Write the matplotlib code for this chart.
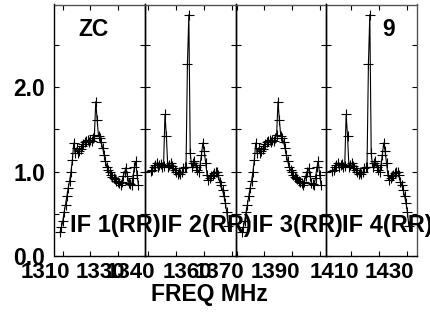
import numpy as np
import matplotlib
matplotlib.use("Agg")
import matplotlib.pyplot as plt
from matplotlib.transforms import ScaledTranslation

plt.rcParams['font.family'] = ['Liberation Sans', 'DejaVu Sans']
plt.rcParams['font.weight'] = 'bold'

# ---------------- data ----------------
if_names = ["IF 1(RR)", "IF 2(RR)", "IF 3(RR)", "IF 4(RR)"]
source_label = "ZC"
corner_label = "9"
x_axis_label = "FREQ MHz"

# per-panel frequency window (MHz)
panel_xlims = [(1307.0, 1340.0), (1339.1, 1371.5), (1369.9, 1402.35), (1401.2, 1433.8)]
# first channel frequency of every IF and channel step (MHz)
chan_start = [1309.0, 1341.1, 1371.9, 1403.25]
chan_step = 0.5

# labelled x ticks per panel
tick_labels_per_panel = [[1310, 1330], [1340, 1360], [1370, 1390], [1410, 1430]]

spec_if1 = [0.28, 0.34, 0.41, 0.52, 0.61, 0.71, 0.81, 0.89, 1.00, 1.14,
            1.34, 1.22, 1.28, 1.22, 1.24, 1.27, 1.30, 1.33, 1.35, 1.36,
            1.37, 1.35, 1.37, 1.36, 1.40, 1.43, 1.83, 1.61, 1.42, 1.40,
            1.35, 1.28, 1.20, 1.12, 1.06, 1.02, 0.99, 0.96, 0.94, 0.92,
            0.91, 0.89, 0.88, 0.86, 0.84, 0.88, 0.95, 1.00, 1.04, 0.95,
            0.87, 0.85, 0.84, 0.93, 1.05, 1.12, 0.96, 0.84]
spec_if2 = [1.01, 1.02, 1.05, 1.08, 1.10, 1.05, 1.08, 1.09, 1.05, 1.07,
            1.68, 1.42, 1.06, 1.08, 1.10, 1.07, 1.04, 1.02, 0.99, 0.97,
            1.00, 0.97, 0.99, 1.04, 1.05, 1.06, 2.27, 2.86, 1.22, 1.06,
            1.10, 1.13, 1.06, 1.02, 0.99, 1.08, 1.20, 1.34, 1.24, 1.10,
            0.96, 0.90, 0.93, 0.95, 0.96, 0.98, 0.99, 1.00, 0.96, 0.88,
            0.84, 0.78, 0.71, 0.63, 0.52, 0.36]
spec_if3 = [0.28, 0.34, 0.41, 0.52, 0.61, 0.71, 0.81, 0.89, 1.00, 1.14,
            1.34, 1.22, 1.28, 1.22, 1.24, 1.27, 1.30, 1.33, 1.35, 1.36,
            1.37, 1.35, 1.37, 1.36, 1.40, 1.43, 1.83, 1.61, 1.42, 1.40,
            1.35, 1.28, 1.20, 1.12, 1.06, 1.02, 0.99, 0.96, 0.94, 0.92,
            0.91, 0.89, 0.88, 0.86, 0.84, 0.88, 0.95, 1.00, 1.04, 0.95,
            0.87, 0.85, 0.84, 0.93, 1.05, 1.12, 0.96, 0.84]
spec_if4 = [1.01, 1.02, 1.05, 1.08, 1.10, 1.05, 1.08, 1.09, 1.05, 1.07,
            1.68, 1.42, 1.06, 1.08, 1.10, 1.07, 1.04, 1.02, 0.99, 0.97,
            1.00, 0.97, 0.99, 1.04, 1.05, 1.06, 2.27, 2.86, 1.22, 1.06,
            1.10, 1.13, 1.06, 1.02, 0.99, 1.08, 1.20, 1.34, 1.24, 1.10,
            0.96, 0.90, 0.93, 0.95, 0.96, 0.98, 0.99, 1.00, 0.96, 0.88,
            0.84, 0.78, 0.71, 0.63, 0.52, 0.36]
spectra = [spec_if1, spec_if2, spec_if3, spec_if4]

y_max = 2.98
y_ticks = [0.0, 0.5, 1.0, 1.5, 2.0, 2.5]
y_tick_labels = ["0.0", "", "1.0", "", "2.0", ""]

# ---------------- layout ----------------
W, H = 431, 314
fig = plt.figure(figsize=(W / 100, H / 100), dpi=100)
fig.patch.set_facecolor('white')

panel_left_px = [54.5, 145.3, 236.3, 326.5]
panel_right_px = 417.3
top_px, bottom_px = 4.5, 256.0

label_shift = ScaledTranslation(-17 / 100, 0, fig.dpi_scale_trans)

axes = []
for i in range(4):
    l = panel_left_px[i]
    r = panel_left_px[i + 1] if i < 3 else panel_right_px
    ax = fig.add_axes([l / W, 1 - bottom_px / H, (r - l) / W, (bottom_px - top_px) / H])
    ax.patch.set_visible(False)
    axes.append(ax)

for i, ax in enumerate(axes):
    vals = spectra[i]
    freqs = chan_start[i] + chan_step * np.arange(len(vals))
    ax.plot(freqs, vals, color='black', lw=0.8, marker='+', ms=7, mew=0.8,
            zorder=3, clip_on=False)
    ax.set_xlim(*panel_xlims[i])
    ax.set_ylim(0, y_max)

    lo, hi = panel_xlims[i]
    ticks = [t for t in range(int(np.ceil(lo / 10.0)) * 10, int(hi) + 1, 10)]
    labs = [str(t) if t in tick_labels_per_panel[i] else "" for t in ticks]
    ax.set_xticks(ticks)
    ax.set_xticklabels(labs, fontsize=16, fontweight='bold')
    ax.set_yticks(y_ticks)
    if i == 0:
        ax.set_yticklabels(y_tick_labels, fontsize=16.5, fontweight='bold')
    else:
        ax.set_yticklabels([""] * len(y_ticks))

    ax.tick_params(axis='x', which='both', direction='in', length=3.5, width=0.8,
                   top=True, bottom=True, pad=4, colors='black')
    ax.tick_params(axis='y', which='both', direction='in', length=3.5, width=0.8,
                   left=True, right=True, pad=6.5, colors='black')
    for t in ax.xaxis.get_major_ticks():
        t.label1.set_transform(t.label1.get_transform() + label_shift)

    for s in ax.spines.values():
        s.set_linewidth(1.0)
        s.set_color('black')
    ax.spines['top'].set_color('#555555')

    ax.text(0.171, 0.123, if_names[i], transform=ax.transAxes, ha='left', va='center',
            fontsize=17, fontweight='bold', zorder=5)

axes[3].spines['right'].set_color('#555555')

axes[0].text(0.259, 0.90, source_label, transform=axes[0].transAxes, ha='left',
             va='center', fontsize=16.5, fontweight='bold')
axes[3].text(0.754, 0.90, corner_label, transform=axes[3].transAxes, ha='right',
             va='center', fontsize=16.5, fontweight='bold')

fig.text(209 / W, 1 - 295 / H, x_axis_label, ha='center', va='center',
         fontsize=16.5, fontweight='bold')

fig.savefig("out.png", dpi=100)
